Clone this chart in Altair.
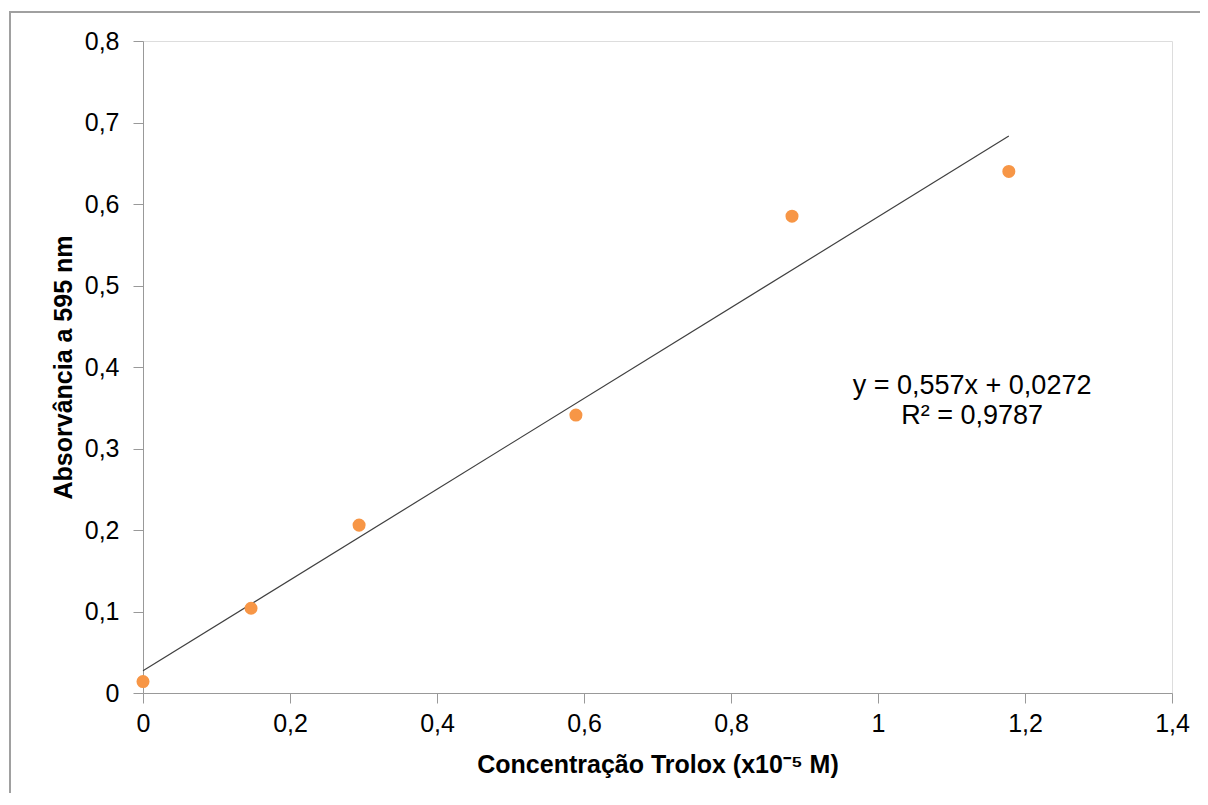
import altair as alt
import pandas as pd

# Data
conc = [0.0, 0.147, 0.294, 0.589, 0.883, 1.178]
absorb = [0.014, 0.104, 0.206, 0.341, 0.585, 0.640]
slope = 0.557
intercept = 0.0272
eq_lines = ["y = 0,557x + 0,0272", "R² = 0,9787"]
x_ticks = [0, 0.2, 0.4, 0.6, 0.8, 1, 1.2, 1.4]
y_ticks = [0, 0.1, 0.2, 0.3, 0.4, 0.5, 0.6, 0.7, 0.8]

pts = pd.DataFrame({"x": conc, "y": absorb})
fit = pd.DataFrame({"x": [min(conc), max(conc)]})
fit["y"] = slope * fit["x"] + intercept
ann = pd.DataFrame({"x": [1.128], "y": [0.377], "t": [eq_lines]})

FONT = "Liberation Sans"
lab = "replace(format(datum.value, '.1~f'), '.', ',')"

xs = alt.Scale(domain=[0, 1.4], nice=False)
ys = alt.Scale(domain=[0, 0.8], nice=False)

xaxis = alt.Axis(values=x_ticks, labelExpr=lab, grid=False, domainColor="#999999",
                 tickColor="#999999", tickSize=10, labelFontSize=25, labelFont=FONT,
                 labelColor="#000000", labelPadding=8, labelFlush=False,
                 titleFontSize=25, titleFont=FONT,
                 titleFontWeight="bold", titleColor="#000000", titlePadding=16)
yaxis = alt.Axis(values=y_ticks, labelExpr=lab, grid=False, domainColor="#999999",
                 tickColor="#999999", tickSize=10, labelFontSize=25, labelFont=FONT,
                 labelColor="#000000", labelPadding=14, labelFlush=False,
                 titleFontSize=25, titleFont=FONT,
                 titleFontWeight="bold", titleColor="#000000", titlePadding=8)

frame = alt.Chart(alt.Data(values=[{}])).mark_rect(
    fill=None, stroke="#a0a0a0", strokeWidth=2
).encode(x=alt.value(-133), x2=alt.value(1100), y=alt.value(-29), y2=alt.value(800))

line = alt.Chart(fit).mark_line(color="#404040", strokeWidth=1.2).encode(
    x=alt.X("x:Q", scale=xs, axis=xaxis, title="Concentração Trolox (x10⁻⁵ M)"),
    y=alt.Y("y:Q", scale=ys, axis=yaxis, title="Absorvância a 595 nm"),
)

points = alt.Chart(pts).mark_circle(color="#F79646", opacity=1, size=170).encode(
    x=alt.X("x:Q", scale=xs), y=alt.Y("y:Q", scale=ys)
)

text = alt.Chart(ann).mark_text(
    font=FONT, fontSize=27, color="#000000", align="center", baseline="middle", lineHeight=30
).encode(x=alt.X("x:Q", scale=xs), y=alt.Y("y:Q", scale=ys), text="t")

chart = alt.layer(frame, line, points, text).properties(
    width=1029, height=652,
    autosize=alt.AutoSizeParams(type="none"),
    padding={"left": 135, "top": 33, "right": 28, "bottom": 100},
).configure_view(stroke=None).configure(background="#ffffff")

chart.save("out.html", embed_options={"renderer": "svg", "actions": False})
